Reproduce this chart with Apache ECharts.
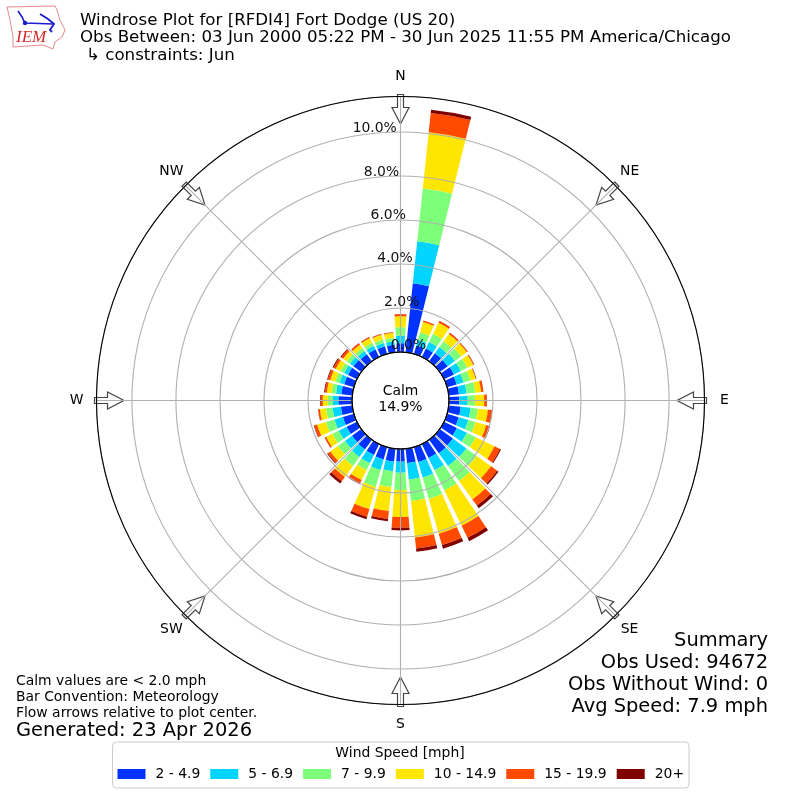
<!DOCTYPE html>
<html><head><meta charset="utf-8">
<style>html,body{margin:0;padding:0;background:#fff}#c{width:800px;height:800px}</style>
<script src="https://cdn.jsdelivr.net/npm/echarts@6/dist/echarts.min.js"></script>
</head><body><div id="c"></div>
<script>
const directions = ['0','10','20','30','40','50','60','70','80','90','100','110','120','130','140','150','160','170','180','190','200','210','220','230','240','250','260','270','280','290','300','310','320','330','340','350'];
const speedBins = ['2 - 4.9','5 - 6.9','7 - 9.9','10 - 14.9','15 - 19.9','20+'];
const speed2to5  = [0.40,3.15,0.40,0.43,0.45,0.45,0.50,0.45,0.47,0.47,0.55,0.55,0.65,0.74,0.76,0.70,0.70,0.65,0.58,0.58,0.58,0.55,0.55,0.52,0.52,0.52,0.52,0.62,0.50,0.46,0.45,0.44,0.40,0.38,0.36,0.34];
const speed5to7  = [0.34,1.92,0.27,0.32,0.35,0.40,0.35,0.33,0.35,0.38,0.45,0.45,0.50,0.76,0.71,0.62,0.74,0.75,0.50,0.45,0.50,0.42,0.42,0.40,0.40,0.40,0.38,0.25,0.24,0.22,0.20,0.20,0.18,0.18,0.16,0.16];
const speed7to10 = [0.38,2.41,0.35,0.42,0.33,0.35,0.33,0.32,0.39,0.33,0.33,0.35,0.45,0.58,0.85,1.02,1.01,0.99,0.78,0.72,0.80,0.35,0.50,0.40,0.32,0.40,0.30,0.23,0.20,0.20,0.18,0.18,0.16,0.16,0.16,0.15];
const speed10to15= [0.50,2.57,0.49,0.56,0.40,0.32,0.30,0.25,0.27,0.42,0.46,0.50,0.95,0.80,1.03,1.79,1.64,1.67,1.23,1.10,1.05,0.50,0.62,0.42,0.32,0.42,0.28,0.23,0.22,0.24,0.24,0.20,0.19,0.24,0.23,0.24];
const speed15to20= [0.10,0.88,0.07,0.09,0.07,0.05,0.04,0.03,0.11,0.12,0.19,0.15,0.28,0.35,0.35,0.61,0.54,0.50,0.49,0.36,0.36,0.18,0.24,0.14,0.07,0.14,0.08,0.09,0.09,0.11,0.11,0.11,0.08,0.05,0.03,0.03];
const speed20up  = [0.01,0.15,0.00,0.01,0.01,0.01,0.01,0.01,0.00,0.01,0.01,0.03,0.05,0.07,0.15,0.17,0.17,0.15,0.12,0.10,0.12,0.03,0.13,0.04,0.01,0.02,0.01,0.03,0.04,0.04,0.05,0.04,0.01,0.01,0.01,0.01];
const speedColors = ['#0033ff','#00d4ff','#7dff7a','#ffe600','#ff4a00','#800000'];
const compass = {0:'N',45:'NE',90:'E',135:'SE',180:'S',225:'SW',270:'W',315:'NW'};
const radiusTicks = ['0.0%','2.0%','4.0%','6.0%','8.0%','10.0%'];
const titleLines = ['Windrose Plot for [RFDI4] Fort Dodge (US 20)','Obs Between: 03 Jun 2000 05:22 PM - 30 Jun 2025 11:55 PM America/Chicago','\u21B3 constraints: Jun'];
const summaryLines = ['Summary','Obs Used: 94672','Obs Without Wind: 0','Avg Speed: 7.9 mph'];
const noteLines = ['Calm values are < 2.0 mph','Bar Convention: Meteorology','Flow arrows relative to plot center.'];
const allSpeeds = [speed2to5,speed5to7,speed7to10,speed10to15,speed15to20,speed20up];

const FF = '"DejaVu Sans"';
const CX=400.5, CY=400.5, R0=48.5, R1=304, RMAX=11.61;
const g = [];
function txt(x,y,t,size,align,z,extra){ g.push({type:'text',z:z||20,style:Object.assign({x:x,y:y,text:t,font:size+'px '+FF,fill:'#000',align:align||'left',verticalAlign:'middle'},extra||{})}); }
titleLines.forEach((t,i)=>txt(i==2?86:80,[21,38,56][i],t,16.67));
summaryLines.forEach((t,i)=>txt(768,[641,662.5,684.5,706.5][i],t,19.44,'right'));
noteLines.forEach((t,i)=>txt(16,[681,697,713][i],t,13.9));
txt(16,731,'Generated: 23 Apr 2026',19.44);
txt(400.5,391.5,'Calm',13.9,'center');
txt(400.5,407.5,'14.9%',13.9,'center');
txt(400,753.5,'Wind Speed [mph]',13.9,'center');
radiusTicks.forEach((t,i)=>txt(408.5-i*6.75,345.5-i*43.4,t,13.9,'center',20,{fill:'#111'}));
// compass letters
Object.keys(compass).forEach(a=>{ const th=a*Math.PI/180; txt(CX+324*Math.sin(th),CY-324*Math.cos(th),compass[a],13.9,'center'); });
// centre hole outline
g.push({type:'circle',z:15,shape:{cx:CX,cy:CY,r:R0},style:{fill:'none',stroke:'#000',lineWidth:1}});
// direction arrows
Object.keys(compass).forEach(a=>{
  const th=a*Math.PI/180, ux=Math.sin(th), uy=-Math.cos(th), px=-uy, py=ux;
  const P=(r,w)=>[CX+ux*r+px*w, CY+uy*r+py*w];
  g.push({type:'polygon',z:1,shape:{points:[P(306,-3),P(306,3),P(293,3),P(293,8.5),P(276.5,0),P(293,-8.5),P(293,-3)]},style:{fill:'#fff',stroke:'#444',lineWidth:1.2}});
});
// logo
g.push({type:'polygon',z:3,shape:{points:[[7,7],[55,6],[57,10],[60,20],[65,30],[62,37],[55,42],[53,49],[43,45],[13,47],[13,37],[10,20]]},style:{fill:'#fff',stroke:'#e58a8a',lineWidth:1}});
g.push({type:'polyline',z:4,shape:{points:[[18,11],[22,17],[25,23],[53,24]]},style:{stroke:'#1a1ad0',lineWidth:1.6,fill:'none'}});
g.push({type:'polyline',z:4,shape:{points:[[40,14],[48,19],[54,24],[50,30],[52,32]]},style:{stroke:'#1a1ad0',lineWidth:1.8,fill:'none'}});
g.push({type:'circle',z:4,shape:{cx:25,cy:23,r:2.2},style:{fill:'#1a1ad0'}});
g.push({type:'text',z:4,style:{x:16,y:38,text:'IEM',font:'italic 17px "Liberation Serif"',fill:'#d42a2a',verticalAlign:'middle'}});

const series = speedBins.map((n,i)=>({name:n,type:'bar',coordinateSystem:'polar',polarIndex:0,stack:'w',data:allSpeeds[i],barCategoryGap:'20%',itemStyle:{color:speedColors[i]},silent:true,z:2}));

const chart = echarts.init(document.getElementById('c'),null,{renderer:'canvas'});
chart.setOption({
  animation:false, backgroundColor:'#fff',
  polar:[{center:[CX,CY],radius:[R0,R1]},{center:[CX,CY],radius:[R0,R1]}],
  angleAxis:[
    {polarIndex:0,type:'category',data:directions,startAngle:95,clockwise:true,boundaryGap:true,axisLine:{show:false},axisTick:{show:false},axisLabel:{show:false},splitLine:{show:false}},
    {polarIndex:1,type:'value',min:0,max:360,interval:45,startAngle:90,clockwise:true,z:8,
      axisLine:{show:true,lineStyle:{color:'#000',width:1.1}},axisTick:{show:false},
      axisLabel:{show:false},
      splitLine:{show:true,lineStyle:{color:'#b0b0b0',width:1.1,type:'solid'}}}
  ],
  radiusAxis:[
    {polarIndex:0,type:'value',min:0,max:RMAX,axisLine:{show:false},axisTick:{show:false},axisLabel:{show:false},splitLine:{show:false}},
    {polarIndex:1,type:'value',min:0,max:RMAX,interval:2,z:7,axisLine:{show:false},axisTick:{show:false},axisLabel:{show:false},
      splitLine:{show:true,lineStyle:{color:'#b0b0b0',width:1.1,type:'solid'}}}
  ],
  legend:{left:112.5,top:742,orient:'horizontal',width:580,icon:'rect',itemWidth:28,itemHeight:10,itemGap:10,
    padding:[25,5,7,5],backgroundColor:'#fff',borderColor:'#ccc',borderWidth:1,borderRadius:4,
    textStyle:{fontFamily:FF,fontSize:13.9,color:'#000',padding:[0,0,0,5]},data:speedBins,selectedMode:false},
  series:series,
  graphic:{elements:g}
});
</script></body></html>
